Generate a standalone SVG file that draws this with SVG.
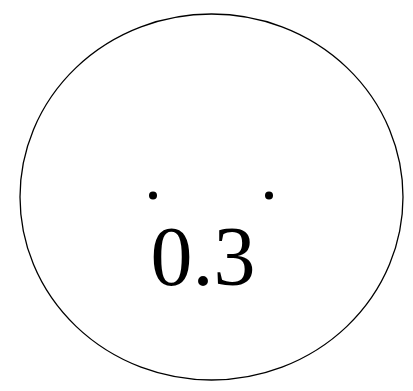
<svg xmlns="http://www.w3.org/2000/svg" width="413" height="391" viewBox="0 0 413 391">
<style>
.outline{fill:#fff;stroke:#000;stroke-width:1.3}
.dot{fill:#000}
.lbl{font-family:"Liberation Serif","Times New Roman",serif;font-size:84px;fill:#000;text-anchor:middle}
</style>
<rect width="413" height="391" fill="#fff"/>
<g id="node-circle">
<ellipse class="outline" cx="211.5" cy="197" rx="191.5" ry="183"/>
<circle class="dot" cx="153" cy="195.5" r="4"/>
<circle class="dot" cx="269" cy="195.5" r="4"/>
<text class="lbl" x="203" y="285">0.3</text>
</g>
<g id="connectors"/>
</svg>
